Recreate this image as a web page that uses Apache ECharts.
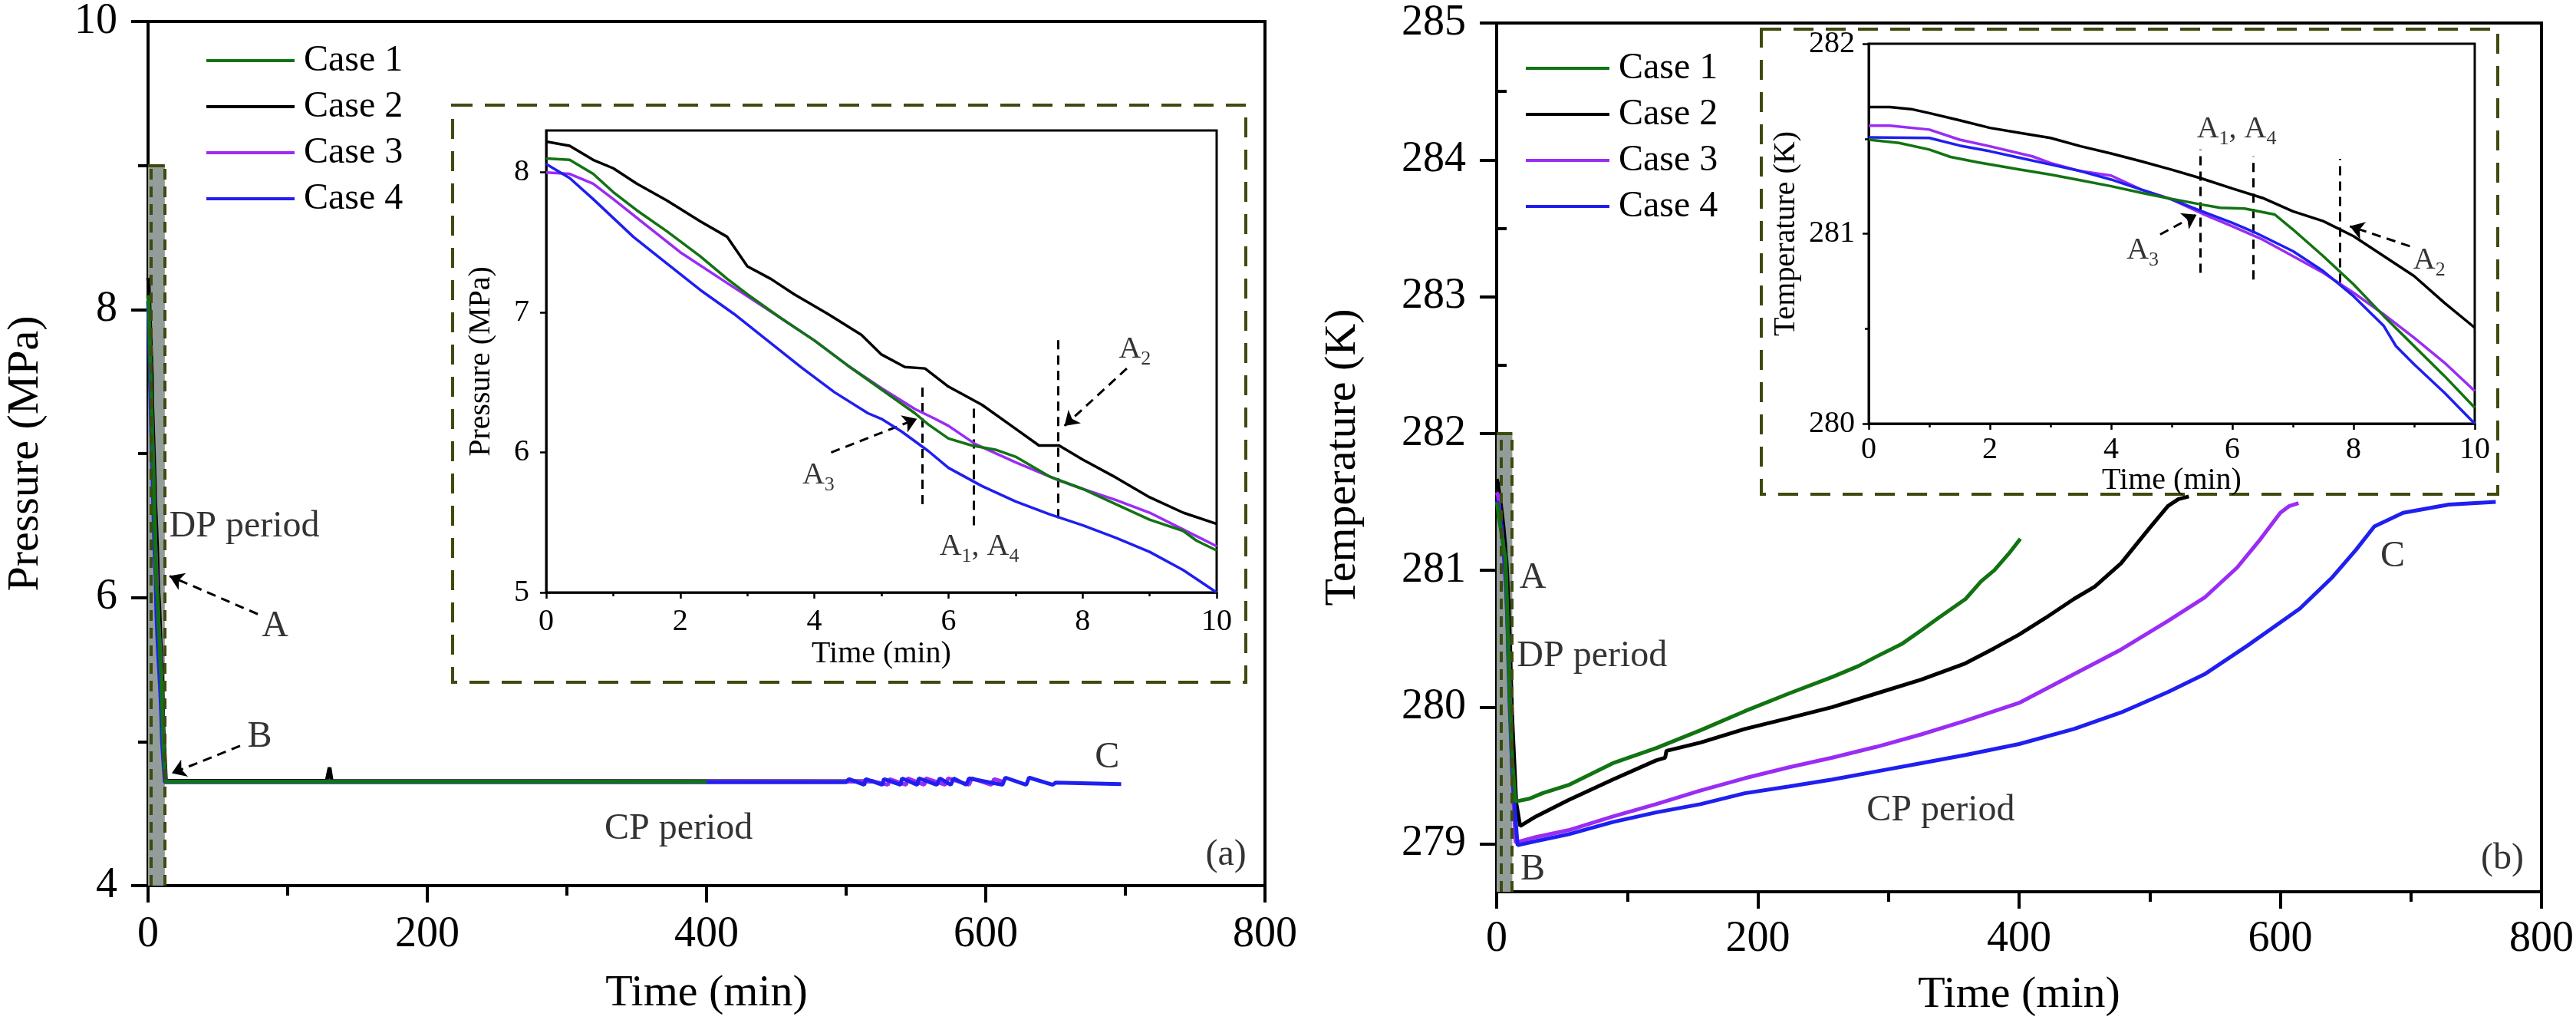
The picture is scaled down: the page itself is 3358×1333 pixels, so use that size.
<!DOCTYPE html>
<html>
<head>
<meta charset="utf-8">
<script src="https://cdn.jsdelivr.net/npm/echarts@6/dist/echarts.min.js"></script>
<style>
  html, body { margin: 0; background: #fff; }
  #chart { width: 3358px; height: 1333px; }
</style>
</head>
<body>
<div id="chart"></div>
<script>
const CASES = ['Case 1', 'Case 2', 'Case 3', 'Case 4']
const COLORS = ['#127312', '#000000', '#9a2cf4', '#1f1ff0']
const FONT = "'Liberation Serif', 'Times New Roman', serif"
const OLIVE = '#3d4b0e'

// pressure, first 10 min (inset of panel a)  [time, MPa]
const pIn1 = [[0, 8.10], [0.35, 8.09], [0.7, 7.99], [1.0, 7.86], [1.35, 7.73], [1.8, 7.58], [2.3, 7.40], [2.7, 7.24], [3.0, 7.13], [3.5, 6.96], [4.0, 6.80], [4.5, 6.62], [5.0, 6.45], [5.5, 6.28], [5.7, 6.20], [6.0, 6.10], [6.35, 6.05], [6.7, 6.02], [7.0, 5.97], [7.5, 5.83], [8.0, 5.74], [8.5, 5.63], [9.0, 5.52], [9.5, 5.44], [9.7, 5.37], [10, 5.30]]
const pIn2 = [[0, 8.22], [0.35, 8.19], [0.7, 8.09], [1.0, 8.03], [1.35, 7.92], [1.8, 7.80], [2.3, 7.65], [2.7, 7.54], [3.0, 7.33], [3.35, 7.24], [3.7, 7.13], [4.2, 6.99], [4.7, 6.84], [5.0, 6.70], [5.35, 6.61], [5.65, 6.60], [6.0, 6.47], [6.5, 6.34], [7.0, 6.17], [7.35, 6.05], [7.65, 6.05], [8.0, 5.95], [8.5, 5.82], [9.0, 5.68], [9.5, 5.57], [10, 5.49]]
const pIn3 = [[0, 8.00], [0.35, 7.99], [0.7, 7.92], [1.0, 7.81], [1.5, 7.62], [2.0, 7.43], [2.7, 7.21], [3.5, 6.96], [4.0, 6.80], [4.5, 6.62], [5.0, 6.46], [5.5, 6.31], [5.8, 6.24], [6.0, 6.19], [6.4, 6.06], [7.0, 5.93], [7.65, 5.80], [8.0, 5.74], [8.5, 5.66], [9.0, 5.57], [9.5, 5.45], [10, 5.33]]
const pIn4 = [[0, 8.06], [0.35, 7.96], [0.7, 7.81], [1.3, 7.54], [1.8, 7.35], [2.3, 7.16], [2.8, 6.99], [3.3, 6.80], [3.8, 6.61], [4.3, 6.43], [4.8, 6.28], [5.0, 6.24], [5.3, 6.15], [5.7, 6.01], [6.0, 5.89], [6.5, 5.76], [7.0, 5.65], [7.5, 5.56], [8.0, 5.48], [8.5, 5.39], [9.0, 5.29], [9.5, 5.16], [10, 5.00]]

// pressure after 10 min (CP period)
const pTail1 = [[11, 4.98], [12.5, 4.722], [400, 4.722]]
const pTail2 = [[11, 5.10], [12.8, 4.728], [128, 4.728], [130, 4.82], [131.5, 4.728], [520, 4.725]]
const pTail3 = [[11, 5.00], [12.5, 4.725], [520, 4.722], [530, 4.70], [531, 4.74], [543, 4.70], [544, 4.745], [556, 4.70], [557, 4.745], [571, 4.70], [573, 4.745], [588, 4.70], [590, 4.745], [604, 4.70], [606, 4.74], [613, 4.72]]
const pTail4 = [[11, 4.86], [12, 4.718], [500, 4.718], [502, 4.74], [513, 4.70], [514, 4.74], [526, 4.70], [527, 4.74], [539, 4.70], [540, 4.745], [551, 4.70], [552, 4.745], [565, 4.70], [567, 4.745], [575, 4.70], [577, 4.745], [586, 4.70], [588, 4.745], [612, 4.70], [614, 4.75], [629, 4.70], [631, 4.75], [648, 4.70], [650, 4.715], [697, 4.705]]

// temperature, first 10 min (inset of panel b)  [time, K]
const tIn1 = [[0, 281.495], [0.5, 281.478], [1.0, 281.443], [1.35, 281.404], [1.8, 281.376], [2.5, 281.337], [3.0, 281.311], [3.5, 281.281], [4.0, 281.250], [4.5, 281.215], [5.0, 281.183], [5.5, 281.153], [5.8, 281.136], [6.2, 281.132], [6.7, 281.101], [7.0, 281.022], [7.5, 280.882], [8.0, 280.733], [8.5, 280.566], [9.0, 280.408], [9.5, 280.251], [10, 280.084]]
const tIn2 = [[0, 281.667], [0.35, 281.667], [0.7, 281.656], [1.0, 281.635], [1.5, 281.597], [2.0, 281.557], [2.5, 281.530], [3.0, 281.504], [3.5, 281.460], [4.0, 281.422], [4.5, 281.381], [5.0, 281.337], [5.5, 281.290], [6.0, 281.238], [6.5, 281.188], [7.0, 281.118], [7.5, 281.066], [8.0, 280.987], [8.5, 280.882], [9.0, 280.777], [9.5, 280.636], [10, 280.505]]
const tIn3 = [[0, 281.569], [0.35, 281.569], [1.0, 281.548], [1.5, 281.495], [2.0, 281.460], [2.7, 281.407], [3.0, 281.372], [3.5, 281.329], [4.0, 281.306], [4.5, 281.232], [5.0, 281.180], [5.5, 281.106], [6.0, 281.039], [6.5, 280.969], [7.0, 280.882], [7.5, 280.794], [8.0, 280.689], [8.5, 280.575], [9.0, 280.452], [9.5, 280.321], [10, 280.172]]
const tIn4 = [[0, 281.507], [1.0, 281.504], [1.5, 281.464], [2.0, 281.434], [2.5, 281.399], [3.0, 281.364], [3.5, 281.329], [4.0, 281.285], [4.5, 281.232], [5.0, 281.180], [5.5, 281.118], [6.0, 281.057], [6.35, 281.010], [7.0, 280.908], [7.5, 280.803], [8.0, 280.671], [8.5, 280.514], [8.7, 280.408], [9.0, 280.312], [9.5, 280.163], [10, 280.000]]

// temperature after 10 min
const tTail1 = [[12, 279.60], [14.5, 279.31], [25, 279.33], [35, 279.37], [55, 279.43], [89, 279.59], [122, 279.70], [156, 279.83], [190, 279.97], [224, 280.10], [257, 280.22], [277, 280.30], [291, 280.37], [310, 280.46], [325, 280.56], [338, 280.65], [359, 280.79], [371, 280.92], [381, 281.00], [392, 281.12], [401, 281.23]]
const tTail2 = [[12, 279.90], [15, 279.30], [18, 279.13], [30, 279.20], [55, 279.32], [89, 279.47], [122, 279.61], [129, 279.63], [130, 279.68], [156, 279.74], [190, 279.84], [224, 279.92], [257, 280.00], [291, 280.10], [325, 280.20], [359, 280.32], [381, 280.43], [400, 280.53], [420, 280.65], [442, 280.79], [458, 280.88], [478, 281.05], [500, 281.31], [514, 281.47], [522, 281.52], [530, 281.54]]
const tTail3 = [[12, 279.50], [14.5, 279.01], [30, 279.05], [55, 279.10], [89, 279.20], [122, 279.29], [156, 279.39], [190, 279.48], [224, 279.56], [257, 279.63], [291, 279.71], [325, 279.80], [359, 279.90], [381, 279.97], [400, 280.03], [442, 280.24], [478, 280.42], [514, 280.63], [542, 280.80], [567, 281.02], [585, 281.23], [600, 281.42], [607, 281.47], [614, 281.49]]
const tTail4 = [[12, 279.50], [16, 278.99], [30, 279.02], [55, 279.07], [89, 279.16], [122, 279.23], [156, 279.29], [190, 279.37], [224, 279.42], [257, 279.47], [291, 279.53], [325, 279.59], [359, 279.65], [400, 279.73], [442, 279.84], [478, 279.96], [514, 280.11], [542, 280.24], [575, 280.45], [615, 280.72], [640, 280.95], [658, 281.15], [672, 281.32], [694, 281.42], [729, 281.48], [765, 281.50]]

// axis ticks
const tempTicks = [279, 280, 281, 282, 283, 284, 285]
const tempMinorTicks = [279.5, 280.5, 281.5, 282.5, 283.5, 284.5]
const pInsetTicks = [5, 6, 7, 8]

// DP-period shaded band: [x0, x1, yBottom, yTop, dashed x left, dashed x right]
const dpBandP = [0, 12, 4, 9, 2.2, 11.7]
const dpBandT = [0, 12, 278.65, 282, 3.2, 11.7]

// annotations [x, y, text] in data units
const notesP = [[69, 6.49, 'DP period'], [91, 5.80, 'A'], [80, 5.03, 'B'], [380, 4.39, 'CP period'], [687, 4.89, 'C'], [772, 4.21, '(a)']]
const arrowsP = [[78.6, 5.885, 15.4, 6.15], [65.9, 4.97, 17, 4.78]]
const notesPin = [[8.78, 6.72, '{b|A}{s|2}'], [4.06, 5.82, '{b|A}{s|3}'], [6.46, 5.31, '{b|A}{s|1}{b|, A}{s|4}']]
const arrowsPin = [[8.66, 6.60, 7.73, 6.19], [4.25, 6.0, 5.53, 6.24]]
const marksPin = [[5.61, 5.63, 5.61, 6.47], [6.38, 5.48, 6.38, 6.35], [7.63, 5.53, 7.63, 6.81]]

const notesT = [[73, 280.37, 'DP period'], [27.6, 280.94, 'A'], [27.6, 278.81, 'B'], [340, 279.24, 'CP period'], [686, 281.10, 'C'], [770, 278.89, '(b)']]
const notesTin = [[6.07, 281.539, '{b|A}{s|1}{b|, A}{s|4}'], [4.52, 280.899, '{b|A}{s|3}'], [9.25, 280.847, '{b|A}{s|2}']]
const arrowsTin = [[4.81, 280.996, 5.41, 281.10], [8.93, 280.934, 7.94, 281.039]]
const marksTin = [[5.47, 280.794, 5.47, 281.443], [6.34, 280.759, 6.34, 281.407], [7.78, 280.741, 7.78, 281.394]]

const chart = echarts.init(document.getElementById('chart'))

function txt(size) {
  return { fontSize: size, color: '#000', fontFamily: FONT }
}

function axisParts(lw, tickLen, minorLen, labelSize, margin) {
  return {
    type: 'value',
    axisLine: { show: true, onZero: false, lineStyle: { color: '#000', width: lw } },
    axisTick: { show: true, inside: false, length: tickLen, lineStyle: { color: '#000', width: lw } },
    minorTick: { show: minorLen > 0, splitNumber: 2, length: minorLen, lineStyle: { color: '#000', width: lw } },
    splitLine: { show: false },
    minorSplitLine: { show: false },
    axisLabel: { margin, ...txt(labelSize) },
    nameLocation: 'middle',
  }
}

function caseLine(idx, data, ai, width) {
  return {
    type: 'line',
    name: CASES[idx],
    data,
    xAxisIndex: ai,
    yAxisIndex: ai,
    symbol: 'none',
    showSymbol: false,
    silent: true,
    animation: false,
    lineStyle: { color: COLORS[idx], width },
    itemStyle: { color: COLORS[idx] },
  }
}

function bandSeries(ai, band) {
  const [x0, x1, y0, y1, d0, d1] = band
  return {
    type: 'line',
    data: [[x0, y0], [x1, y0]],
    xAxisIndex: ai,
    yAxisIndex: ai,
    symbol: 'none',
    silent: true,
    animation: false,
    lineStyle: { opacity: 0 },
    markArea: {
      silent: true,
      itemStyle: { color: '#929d99' },
      data: [[{ coord: [x0, y0] }, { coord: [x1, y1] }]],
    },
    markLine: {
      silent: true,
      symbol: 'none',
      animation: false,
      label: { show: false },
      lineStyle: { color: OLIVE, width: 4, type: [14, 9] },
      data: [
        [{ coord: [d0, y0] }, { coord: [d0, y1] }],
        [{ coord: [d1, y0] }, { coord: [d1, y1] }],
        [{ coord: [x0, y1], lineStyle: { type: 'solid' } }, { coord: [x1, y1] }],
      ],
    },
  }
}

function noteSeries(ai, notes, size, subSize) {
  return {
    type: 'scatter',
    xAxisIndex: ai,
    yAxisIndex: ai,
    symbolSize: 1,
    silent: true,
    animation: false,
    itemStyle: { color: 'transparent' },
    data: notes.map((n) => ({ value: [n[0], n[1]], label: { formatter: n[2] } })),
    label: {
      show: true,
      position: 'inside',
      ...txt(size),
      rich: {
        b: { ...txt(size), verticalAlign: 'top', lineHeight: size + 2 },
        s: { ...txt(subSize), verticalAlign: 'top', padding: [Math.round(size * 0.5), 0, 0, 0] },
      },
    },
  }
}

function dashSeries(ai, segs, arrow) {
  return {
    type: 'lines',
    coordinateSystem: 'cartesian2d',
    xAxisIndex: ai,
    yAxisIndex: ai,
    silent: true,
    animation: false,
    symbol: arrow ? ['none', 'arrow'] : ['none', 'none'],
    symbolSize: 18,
    lineStyle: { color: '#000', width: 3, type: [12, 8], opacity: 1 },
    data: segs.map((s) => ({ coords: [[s[0], s[1]], [s[2], s[3]]] })),
  }
}

// draw order: black, purple, blue, green on top
const order = [1, 2, 3, 0]
const pIn = [pIn1, pIn2, pIn3, pIn4]
const pTail = [pTail1, pTail2, pTail3, pTail4]
const tIn = [tIn1, tIn2, tIn3, tIn4]
const tTail = [tTail1, tTail2, tTail3, tTail4]

const series = [
  bandSeries(0, dpBandP),
  ...order.map((i) => caseLine(i, pIn[i].concat(pTail[i]), 0, 5)),
  noteSeries(0, notesP, 48, 30),
  dashSeries(0, arrowsP, true),

  ...order.map((i) => caseLine(i, pIn[i], 1, 3.5)),
  dashSeries(1, marksPin, false),
  dashSeries(1, arrowsPin, true),
  noteSeries(1, notesPin, 40, 26),

  bandSeries(2, dpBandT),
  ...order.map((i) => caseLine(i, tIn[i].concat(tTail[i]), 2, 5)),
  noteSeries(2, notesT, 48, 30),

  ...order.map((i) => caseLine(i, tIn[i], 3, 3.5)),
  dashSeries(3, marksTin, false),
  dashSeries(3, arrowsTin, true),
  noteSeries(3, notesTin, 40, 26),
]

const legendBase = {
  data: CASES.map((name, i) => ({ name, itemStyle: { color: COLORS[i] } })),
  orient: 'vertical',
  selectedMode: false,
  icon: 'rect',
  itemHeight: 4,
  itemGap: 12,
  textStyle: { ...txt(48), lineHeight: 48, padding: [0, 0, 0, 7] },
}

chart.setOption({
  backgroundColor: '#fff',
  animation: false,
  legend: [
    { ...legendBase, left: 264, top: 50, itemWidth: 115 },
    { ...legendBase, left: 1984, top: 60, itemWidth: 109 },
  ],
  grid: [
    { left: 193, top: 27, width: 1456, height: 1127, show: true, borderColor: '#000', borderWidth: 4 },
    { left: 712, top: 170, width: 874, height: 602, show: true, borderColor: '#000', borderWidth: 3 },
    { left: 1951, top: 30, width: 1363, height: 1132, show: true, borderColor: '#000', borderWidth: 4 },
    { left: 2436, top: 57, width: 790, height: 495, show: true, borderColor: '#000', borderWidth: 3 },
  ],
  xAxis: [
    { gridIndex: 0, min: 0, max: 800, interval: 200, ...axisParts(4, 22, 13, 56, 36), name: 'Time (min)', nameGap: 112, nameTextStyle: txt(58) },
    { gridIndex: 1, min: 0, max: 10, interval: 2, ...axisParts(2.5, 8, 5, 40, 18), name: 'Time (min)', nameGap: 60, nameTextStyle: txt(40) },
    { gridIndex: 2, min: 0, max: 800, interval: 200, ...axisParts(4, 22, 13, 56, 34), name: 'Time (min)', nameGap: 106, nameTextStyle: txt(58) },
    { gridIndex: 3, min: 0, max: 10, interval: 2, ...axisParts(2.5, 8, 5, 40, 14), name: 'Time (min)', nameGap: 48, nameTextStyle: txt(40) },
  ],
  yAxis: [
    { gridIndex: 0, min: 4, max: 10, interval: 2, ...axisParts(4, 22, 13, 56, 40), name: 'Pressure (MPa)', nameRotate: 90, nameGap: 130, nameTextStyle: txt(58) },
    {
      gridIndex: 1, min: 5, max: 8.3, ...axisParts(2.5, 8, 0, 40, 22),
      axisLabel: { margin: 22, ...txt(40), customValues: pInsetTicks },
      axisTick: { show: true, length: 8, customValues: pInsetTicks, lineStyle: { color: '#000', width: 2.5 } },
      name: 'Pressure (MPa)', nameRotate: 90, nameGap: 65, nameTextStyle: txt(40),
    },
    {
      gridIndex: 2, min: 278.65, max: 285, ...axisParts(4, 22, 0, 56, 40),
      axisLabel: { margin: 40, ...txt(56), customValues: tempTicks },
      axisTick: { show: true, length: 22, customValues: tempTicks, lineStyle: { color: '#000', width: 4 } },
      name: 'Temperature (K)', nameRotate: 90, nameGap: 171, nameTextStyle: txt(58),
    },
    { gridIndex: 3, min: 280, max: 282, interval: 1, ...axisParts(2.5, 8, 5, 40, 18), name: 'Temperature (K)', nameRotate: 90, nameGap: 88, nameTextStyle: txt(40) },
    {
      gridIndex: 2, type: 'value', min: 278.65, max: 285,
      axisLine: { show: false }, axisLabel: { show: false }, splitLine: { show: false },
      axisTick: { show: true, length: 13, customValues: tempMinorTicks, lineStyle: { color: '#000', width: 4 } },
    },
  ],
  graphic: [
    { type: 'rect', silent: true, shape: { x: 590, y: 137, width: 1034, height: 752 }, style: { fill: null, stroke: OLIVE, lineWidth: 4, lineDash: [26, 16] } },
    { type: 'rect', silent: true, shape: { x: 2296, y: 38, width: 960, height: 606 }, style: { fill: null, stroke: OLIVE, lineWidth: 4, lineDash: [26, 16] } },
  ],
  series,
})
</script>
</body>
</html>
